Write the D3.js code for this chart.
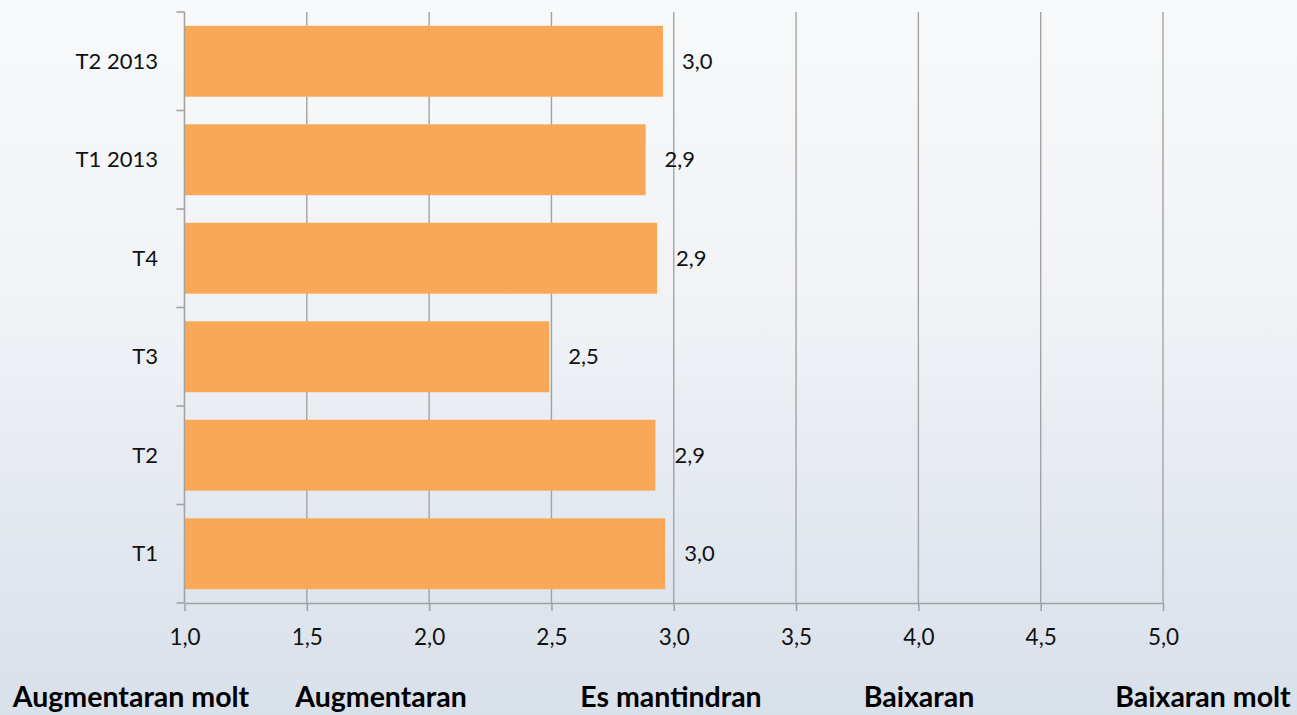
<!DOCTYPE html>
<html>
<head>
<meta charset="utf-8">
<script src="https://cdn.jsdelivr.net/npm/d3@7"></script>
<style>
  html, body { margin: 0; padding: 0; }
  body { width: 1297px; height: 715px; overflow: hidden; }
  svg { display: block; font-family: Lato, "Open Sans", sans-serif; }
</style>
</head>
<body>
<svg id="chart" width="1297" height="715"></svg>
<script>
// ---- data ----
const categories = ["T2 2013", "T1 2013", "T4", "T3", "T2", "T1"];
const values = [2.956, 2.885, 2.932, 2.491, 2.925, 2.965];
const valueLabels = ["3,0", "2,9", "2,9", "2,5", "2,9", "3,0"];
const xTicks = [1.0, 1.5, 2.0, 2.5, 3.0, 3.5, 4.0, 4.5, 5.0];
const xTickLabels = ["1,0", "1,5", "2,0", "2,5", "3,0", "3,5", "4,0", "4,5", "5,0"];
const scaleLabels = ["Augmentaran molt", "Augmentaran", "Es mantindran", "Baixaran", "Baixaran molt"];

// ---- layout ----
const W = 1297, H = 715;
const plot = { left: 184.5, right: 1163, top: 12, bottom: 603 };
const scaleLabelCenters = [131, 381, 671, 919, 1203];

const svg = d3.select("#chart");

// background gradient
const defs = svg.append("defs");
const grad = defs.append("linearGradient").attr("id", "bg")
  .attr("x1", 0).attr("y1", 0).attr("x2", 0).attr("y2", 1);
grad.append("stop").attr("offset", "0%").attr("stop-color", "#f8f9fa");
grad.append("stop").attr("offset", "40%").attr("stop-color", "#f1f3f6");
grad.append("stop").attr("offset", "100%").attr("stop-color", "#d8e0ea");
svg.append("rect").attr("width", W).attr("height", H).attr("fill", "url(#bg)");

const x = d3.scaleLinear().domain([1, 5]).range([plot.left, plot.right]);
const y = d3.scaleBand().domain(categories).range([plot.top, plot.bottom])
  .paddingInner(0.28).paddingOuter(0.14);

const gridColor = "#a3a3a3";

// vertical gridlines
svg.append("g").selectAll("line").data(xTicks.slice(1)).join("line")
  .attr("x1", d => x(d)).attr("x2", d => x(d))
  .attr("y1", plot.top).attr("y2", plot.bottom)
  .attr("stroke", gridColor).attr("stroke-width", 1.4);

// bars
svg.append("g").selectAll("rect").data(categories).join("rect")
  .attr("x", x(1))
  .attr("y", d => y(d))
  .attr("width", (d, i) => x(values[i]) - x(1))
  .attr("height", y.bandwidth())
  .attr("fill", "#f9a857");

// value labels
svg.append("g").selectAll("text").data(categories).join("text")
  .attr("x", (d, i) => x(values[i]) + 19)
  .attr("y", d => y(d) + y.bandwidth() / 2)
  .attr("dy", "0.35em")
  .attr("font-size", 22)
  .attr("fill", "#111")
  .text((d, i) => valueLabels[i]);

// x axis
const xAxis = d3.axisBottom(x).tickValues(xTicks)
  .tickFormat((d, i) => xTickLabels[i]).tickSize(8).tickSizeOuter(0).tickPadding(18);
const gx = svg.append("g").attr("transform", `translate(0,${plot.bottom})`).call(xAxis);
gx.select(".domain").attr("stroke", gridColor).attr("stroke-width", 1.6);
gx.selectAll(".tick line").attr("stroke", gridColor).attr("stroke-width", 1.6);
gx.selectAll(".tick text").attr("font-size", 22.5).attr("fill", "#111")
  .attr("font-family", "Lato, sans-serif");

// y axis (ticks at band boundaries)
const boundaries = categories.map(c => y(c) - y.step() * y.paddingInner() / 2);
boundaries[0] = plot.top;
boundaries.push(plot.bottom);
const gy = svg.append("g");
gy.append("line").attr("x1", plot.left).attr("x2", plot.left)
  .attr("y1", plot.top).attr("y2", plot.bottom)
  .attr("stroke", gridColor).attr("stroke-width", 1.6);
gy.selectAll("line.tk").data(boundaries).join("line").attr("class", "tk")
  .attr("x1", plot.left - 8).attr("x2", plot.left)
  .attr("y1", d => d).attr("y2", d => d)
  .attr("stroke", gridColor).attr("stroke-width", 1.6);
gy.selectAll("text").data(categories).join("text")
  .attr("x", 158).attr("y", d => y(d) + y.bandwidth() / 2)
  .attr("dy", "0.35em").attr("text-anchor", "end")
  .attr("font-size", 22).attr("fill", "#111")
  .text(d => d);

// scale labels under axis
svg.append("g").selectAll("text").data(scaleLabels).join("text")
  .attr("x", (d, i) => scaleLabelCenters[i])
  .attr("y", 707)
  .attr("text-anchor", "middle")
  .attr("font-size", 28.5).attr("font-weight", "bold").attr("fill", "#000")
  .text(d => d);
</script>
</body>
</html>
